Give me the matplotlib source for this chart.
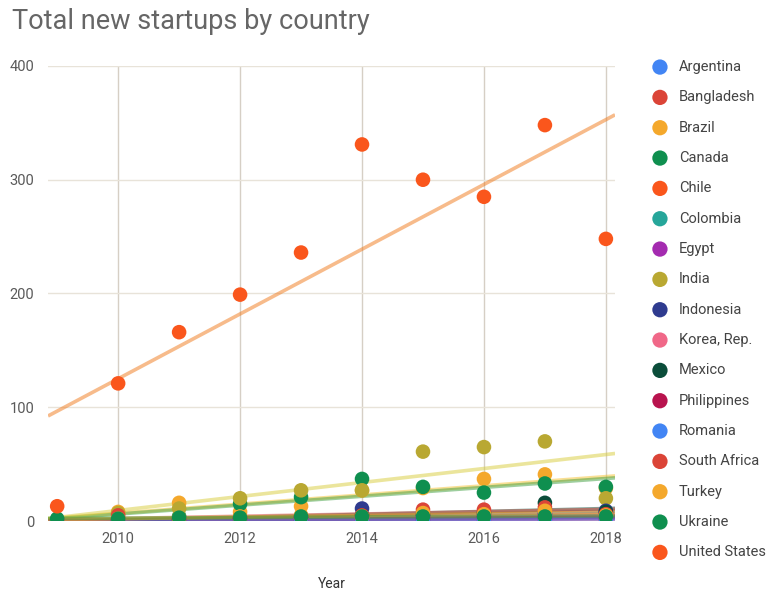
import matplotlib
matplotlib.use("Agg")
import matplotlib.pyplot as plt
import numpy as np

plt.rcParams['font.family'] = ['Roboto', 'DejaVu Sans']

years = [2009, 2010, 2011, 2012, 2013, 2014, 2015, 2016, 2017, 2018]

countries = ["Argentina", "Bangladesh", "Brazil", "Canada", "Chile", "Colombia",
             "Egypt", "India", "Indonesia", "Korea, Rep.", "Mexico", "Philippines",
             "Romania", "South Africa", "Turkey", "Ukraine", "United States"]

argentina = [0, 0, 1, 1, 2, 3, 4, 5, 6, 7]
bangladesh = [0, 0, 0, 1, 1, 1, 2, 2, 2, 2]
brazil = [1, 8, 16, 8, 13, 27, 29, 37, 41, 29]
canada = [1, 2, 4, 15, 21, 37, 30, 25, 33, 30]
chile = [0, 1, 1, 2, 2, 3, 4, 4, 5, 6]
colombia = [0, 0, 1, 1, 1, 2, 2, 3, 3, 4]
egypt = [0, 0, 0, 0, 1, 1, 1, 1, 2, 2]
india = [0, 7, 11, 20, 27, 27, 61, 65, 70, 20]
indonesia = [0, 1, 1, 2, 3, 11, 4, 5, 6, 9]
korea = [1, 1, 2, 2, 3, 3, 4, 5, 5, 6]
mexico = [0, 1, 2, 3, 4, 5, 6, 7, 16, 8]
philippines = [0, 0, 1, 1, 1, 2, 2, 3, 3, 3]
romania = [0, 0, 0, 1, 1, 1, 1, 2, 2, 2]
south_africa = [0, 5, 2, 3, 4, 5, 10, 10, 12, 6]
turkey = [0, 2, 3, 4, 5, 4, 7, 6, 9, 5]
ukraine = [2, 2, 3, 3, 4, 4, 4, 4, 4, 4]
united_states = [13, 121, 166, 199, 236, 331, 300, 285, 348, 248]

series = [argentina, bangladesh, brazil, canada, chile, colombia, egypt, india,
          indonesia, korea, mexico, philippines, romania, south_africa, turkey,
          ukraine, united_states]

colors = ["#4285f4", "#db4437", "#f4a82c", "#0f8f4f", "#fa561c", "#26a69a",
          "#a42bb0", "#b9a832", "#2f3b8f", "#f06888", "#0b4d3a", "#b8134e",
          "#4285f4", "#db4437", "#f4a82c", "#0f8f4f", "#fa561c"]
# trendlines use slightly warmer/lighter tones of the series colours
trend_colors = ["#4285f4", "#db4437", "#f4c02c", "#3f9f3f", "#f07818", "#26a69a",
                "#a42bb0", "#d8cc3a", "#2f3b8f", "#f06888", "#0b4d3a", "#b8134e",
                "#4285f4", "#db4437", "#f4c02c", "#3f9f3f", "#f07818"]

fig = plt.figure(figsize=(7.81, 5.91), dpi=100)
ax = fig.add_axes([0.0615, 0.1184, 0.726, 0.77])

x_lo, x_hi = 2008.85, 2018.15
xs = np.array([x_lo, x_hi])

# linear trendlines first, points on top
for vals, c in zip(series, trend_colors):
    fit = np.poly1d(np.polyfit(years, vals, 1))
    ax.plot(xs, fit(xs), color=c, alpha=0.5, lw=2.6, zorder=2,
            solid_capstyle='butt')

handles = []
for name, vals, c in zip(countries, series, colors):
    h = ax.scatter(years, vals, s=110, color=c, edgecolors='none', zorder=3,
                   label=name)
    handles.append(h)

ax.axhline(0, color="#4a4a4a", lw=1, zorder=1)

ax.set_xlim(x_lo, x_hi)
ax.set_ylim(0, 400)
ax.set_xticks([2010, 2012, 2014, 2016, 2018])
ax.set_yticks([0, 100, 200, 300, 400])
ax.grid(True, axis='y', color="#e8e3d9", lw=1.0, zorder=0)
ax.grid(True, axis='x', color="#d6cfc5", lw=1.0, zorder=0)
ax.set_axisbelow(True)
for s in ax.spines.values():
    s.set_visible(False)
ax.tick_params(length=0, labelsize=10.5, colors="#5a5a5a")
ax.tick_params(axis='y', pad=10)
ax.tick_params(axis='x', pad=8)

ax.set_xlabel("Year", fontsize=10, color="#333333", labelpad=22)

fig.text(0.015, 0.964, "Total new startups by country", fontsize=19.5,
         color="#666666", va='center', ha='left')

leg = fig.legend(handles=handles, loc='upper left',
                 bbox_to_anchor=(0.817, 0.911), frameon=False, fontsize=10.5,
                 labelspacing=1.12, handletextpad=0.3, borderpad=0,
                 markerscale=1.05)
for t in leg.get_texts():
    t.set_color("#444444")

fig.savefig("out.png", dpi=100)
